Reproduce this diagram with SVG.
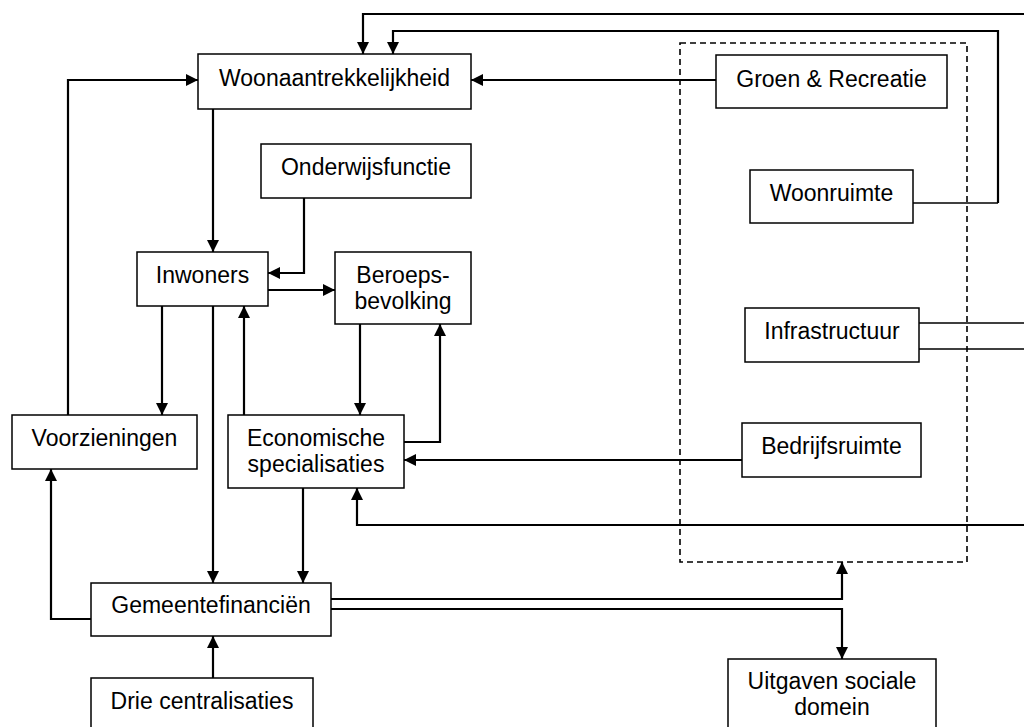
<svg xmlns="http://www.w3.org/2000/svg" width="1024" height="727" viewBox="0 0 1024 727">
<style>
.box{fill:#fff;stroke:#000;stroke-width:1.5}
.t{font-family:"Liberation Sans",Arial,sans-serif;font-size:23px;fill:#000;text-anchor:middle}
.a{fill:none;stroke:#000;stroke-width:2.2;marker-end:url(#ah)}
.l{fill:none;stroke:#000;stroke-width:1.6}
.dash{fill:none;stroke:#000;stroke-width:1.6;stroke-dasharray:6 4}
</style>
<defs>
<marker id="ah" markerUnits="userSpaceOnUse" markerWidth="14" markerHeight="14" refX="12" refY="6" orient="auto">
<path d="M0,0 L12,6 L0,12 z" fill="#000"/>
</marker>
</defs>
<rect width="1024" height="727" fill="#fff"/>
<rect class="dash" x="680" y="43" width="287" height="519"/>
<g id="connectors">
<path class="a" d="M1024,14 H363 V54"/>
<path class="a" d="M998,203 V31 H393 V54"/>
<path class="l" d="M913,203 H998"/>
<path class="a" d="M716,80 H471"/>
<path class="a" d="M68,415 V80 H198"/>
<path class="a" d="M213,109 V252"/>
<path class="a" d="M304,198 V273 H268"/>
<path class="a" d="M268,290 H335"/>
<path class="a" d="M162,306 V415"/>
<path class="a" d="M213,306 V583"/>
<path class="a" d="M244,415 V306"/>
<path class="a" d="M360,324 V415"/>
<path class="a" d="M404,442 H440 V324"/>
<path class="a" d="M742,460 H404"/>
<path class="a" d="M1024,525 H357 V488"/>
<path class="a" d="M303,488 V583"/>
<path class="a" d="M91,619 H51 V469"/>
<path class="a" d="M213,678 V636"/>
<path class="a" d="M331,599 H842 V562"/>
<path class="a" d="M331,609 H842 V659"/>
<path class="l" d="M919,323 H1024 M919,349 H1024"/>
</g>
<g id="woonaantrekkelijkheid"><rect class="box" x="198" y="54" width="273" height="55"/><text class="t" x="334.5" y="86">Woonaantrekkelijkheid</text></g>
<g id="groen"><rect class="box" x="716" y="55" width="231" height="53"/><text class="t" x="831.5" y="87">Groen &amp; Recreatie</text></g>
<g id="onderwijs"><rect class="box" x="261" y="144" width="210" height="54"/><text class="t" x="366" y="175">Onderwijsfunctie</text></g>
<g id="woonruimte"><rect class="box" x="750" y="170" width="163" height="53"/><text class="t" x="831.5" y="201">Woonruimte</text></g>
<g id="inwoners"><rect class="box" x="137" y="252" width="131" height="54"/><text class="t" x="202.5" y="283">Inwoners</text></g>
<g id="beroeps"><rect class="box" x="335" y="252" width="136" height="72"/><text class="t" x="403" y="283">Beroeps-</text><text class="t" x="403" y="309">bevolking</text></g>
<g id="infrastructuur"><rect class="box" x="745" y="308" width="174" height="54"/><text class="t" x="832" y="339">Infrastructuur</text></g>
<g id="voorzieningen"><rect class="box" x="12" y="415" width="185" height="54"/><text class="t" x="104.5" y="446">Voorzieningen</text></g>
<g id="economische"><rect class="box" x="228" y="415" width="176" height="73"/><text class="t" x="316" y="446">Economische</text><text class="t" x="316" y="472">specialisaties</text></g>
<g id="bedrijfsruimte"><rect class="box" x="742" y="423" width="179" height="54"/><text class="t" x="831.5" y="454">Bedrijfsruimte</text></g>
<g id="gemeentefinancien"><rect class="box" x="91" y="583" width="240" height="53"/><text class="t" x="211" y="613">Gemeentefinanciën</text></g>
<g id="drie"><rect class="box" x="91" y="678" width="222" height="60"/><text class="t" x="202" y="709">Drie centralisaties</text></g>
<g id="uitgaven"><rect class="box" x="728" y="659" width="208" height="80"/><text class="t" x="832" y="689">Uitgaven sociale</text><text class="t" x="832" y="715">domein</text></g>
</svg>
